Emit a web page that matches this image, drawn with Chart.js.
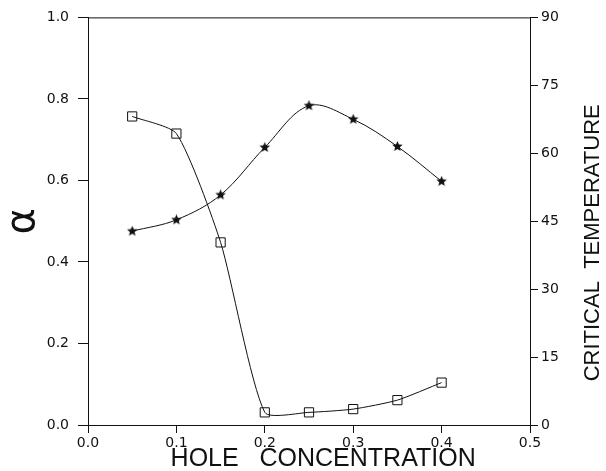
<!DOCTYPE html>
<html lang="en">
<head>
    <meta charset="UTF-8">
    <title>Alpha and critical temperature vs hole concentration</title>
    <script src="https://cdn.jsdelivr.net/npm/chart.js"></script>
    <style>
        body { margin: 0; background: #fff; }
        canvas { display: block; }
    </style>
</head>
<body>
    <canvas id="chart" width="606" height="471"></canvas>

    <script>
        // hole concentration (x)
        const concentration = [0.05, 0.10, 0.15, 0.20, 0.25, 0.30, 0.35, 0.40];
        // alpha, left axis (open squares)
        const alpha = [0.757, 0.715, 0.448, 0.031, 0.031, 0.039, 0.061, 0.104];
        // critical temperature, right axis (stars)
        const critTemp = [42.8, 45.3, 50.8, 61.3, 70.5, 67.5, 61.5, 53.8];

        const xTitle = 'HOLE   CONCENTRATION';
        const leftTitle = 'α';
        const rightTitle = 'CRITICAL  TEMPERATURE';

        const ink = '#111';
        const tickFont = { family: '"DejaVu Sans", sans-serif', size: 14 };

        // filled five-point star used as marker
        function makeStar(size) {
            const c = document.createElement('canvas');
            c.width = size; c.height = size;
            const g = c.getContext('2d');
            const cx = size / 2, cy = size / 2, ro = size / 2, ri = ro * 0.45;
            g.beginPath();
            for (let i = 0; i < 10; i++) {
                const r = i % 2 === 0 ? ro : ri;
                const a = -Math.PI / 2 + i * Math.PI / 5;
                g.lineTo(cx + r * Math.cos(a), cy + r * Math.sin(a));
            }
            g.closePath();
            g.fillStyle = ink;
            g.fill();
            return c;
        }
        const star = makeStar(11);

        // top frame line + titles that chart.js can't place the way the figure has them
        const extraTitles = {
            id: 'extraTitles',
            afterDraw(chart) {
                const { ctx, chartArea: a } = chart;
                ctx.save();
                ctx.strokeStyle = ink;
                ctx.lineWidth = 1;
                ctx.beginPath();
                ctx.moveTo(a.left, a.top + 0.5);
                ctx.lineTo(a.right, a.top + 0.5);
                ctx.stroke();

                ctx.fillStyle = ink;
                ctx.textAlign = 'center';
                ctx.textBaseline = 'middle';
                ctx.font = '25px "Liberation Sans", sans-serif';
                ctx.fillText(xTitle, a.left + (a.right - a.left) * 0.532, a.bottom + 34);

                ctx.font = '22px "Liberation Sans", sans-serif';
                ctx.translate(a.right + 63, a.top + (a.bottom - a.top) * 0.553);
                ctx.rotate(-Math.PI / 2);
                ctx.fillText(rightTitle, 0, 0);
                ctx.restore();
            }
        };

        const ctx = document.getElementById('chart').getContext('2d');
        new Chart(ctx, {
            type: 'scatter',
            data: {
                datasets: [
                    {
                        label: 'alpha',
                        data: concentration.map((x, i) => ({ x: x, y: alpha[i] })),
                        yAxisID: 'y',
                        showLine: true,
                        tension: 0.2,
                        borderColor: ink,
                        borderWidth: 1,
                        pointStyle: 'rect',
                        pointRadius: 6.5,
                        pointBackgroundColor: 'rgba(0,0,0,0)',
                        pointBorderColor: ink,
                        pointBorderWidth: 1
                    },
                    {
                        label: 'Tc',
                        data: concentration.map((x, i) => ({ x: x, y: critTemp[i] })),
                        yAxisID: 'y2',
                        showLine: true,
                        tension: 0.35,
                        borderColor: ink,
                        borderWidth: 1,
                        pointStyle: star,
                        pointRadius: 5
                    }
                ]
            },
            options: {
                responsive: false,
                animation: false,
                layout: { padding: { top: 16, left: 0, right: 0, bottom: 0 } },
                plugins: {
                    legend: { display: false },
                    tooltip: { enabled: false }
                },
                scales: {
                    x: {
                        type: 'linear',
                        min: 0, max: 0.5,
                        afterFit: s => { s.height = 46; },
                        border: { display: true, color: ink, width: 1 },
                        grid: { drawOnChartArea: false, drawTicks: true, tickLength: 8, color: ink },
                        ticks: {
                            stepSize: 0.1, padding: 2, color: ink, font: tickFont, maxRotation: 0,
                            callback: v => v.toFixed(1)
                        }
                    },
                    y: {
                        type: 'linear',
                        position: 'left',
                        min: 0, max: 1,
                        afterFit: s => { s.width = 88; },
                        border: { display: true, color: ink, width: 1 },
                        grid: { drawOnChartArea: false, drawTicks: true, tickLength: 10, color: ink },
                        ticks: { stepSize: 0.2, padding: 9, color: ink, font: tickFont, callback: v => v.toFixed(1) },
                        title: {
                            display: true, text: leftTitle, color: ink, padding: 0,
                            font: { family: '"DejaVu Sans", sans-serif', size: 40, lineHeight: 1.2 }
                        }
                    },
                    y2: {
                        type: 'linear',
                        position: 'right',
                        min: 0, max: 90,
                        afterFit: s => { s.width = 76; },
                        border: { display: true, color: ink, width: 1 },
                        grid: { drawOnChartArea: false, drawTicks: true, tickLength: 8, color: ink },
                        ticks: { stepSize: 15, padding: 3, color: ink, font: tickFont }
                    }
                }
            },
            plugins: [extraTitles]
        });
    </script>
</body>
</html>
